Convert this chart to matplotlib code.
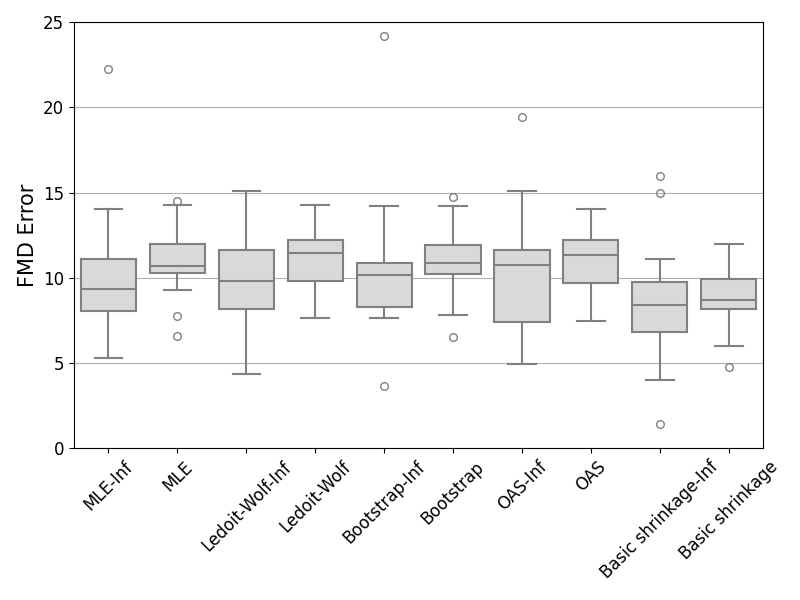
import matplotlib
matplotlib.use("Agg")
import matplotlib.pyplot as plt

methods = ["MLE-Inf", "MLE", "Ledoit-Wolf-Inf", "Ledoit-Wolf", "Bootstrap-Inf",
           "Bootstrap", "OAS-Inf", "OAS", "Basic shrinkage-Inf", "Basic shrinkage"]

# valores
whislo = [5.29, 9.26, 4.36, 7.63, 7.63, 7.82, 4.96, 7.47, 4.03, 5.99]
q1 = [8.03, 10.31, 8.15, 9.79, 8.29, 10.25, 7.39, 9.67, 6.83, 8.17]
med = [9.32, 10.72, 9.84, 11.48, 10.14, 10.84, 10.78, 11.32, 8.40, 8.70]
q3 = [11.13, 12.00, 11.61, 12.20, 10.89, 11.95, 11.65, 12.20, 9.73, 9.92]
whishi = [14.05, 14.28, 15.10, 14.28, 14.22, 14.22, 15.10, 14.05, 11.13, 12.00]
fliers = [[22.26], [14.49, 7.78, 6.56], [], [], [24.18, 3.64],
          [14.73, 6.50], [19.46], [], [15.95, 14.96, 1.42], [4.75]]

stats = []
for i in range(len(methods)):
    stats.append({"label": methods[i], "whislo": whislo[i], "q1": q1[i],
                  "med": med[i], "q3": q3[i], "whishi": whishi[i],
                  "fliers": fliers[i]})

fig, ax = plt.subplots(figsize=(8, 6), dpi=100)
edge = "#808080"
line = dict(color=edge, linewidth=1.5)
ax.bxp(stats, widths=0.8, patch_artist=True,
       boxprops=dict(facecolor="#d9d9d9", edgecolor=edge, linewidth=1.5),
       medianprops=line, whiskerprops=line, capprops=line, capwidths=0.4,
       flierprops=dict(marker="o", markerfacecolor="none", markeredgecolor=edge,
                       markersize=5.5, markeredgewidth=1.0))

ax.set_ylim(0, 25)
ax.set_xlim(0.5, len(methods) + 0.5)
ax.set_ylabel("FMD Error", fontsize=15)
ax.tick_params(axis="both", labelsize=12)
plt.setp(ax.get_xticklabels(), rotation=45)
ax.yaxis.grid(True)
ax.set_axisbelow(True)

fig.subplots_adjust(left=0.0925, right=0.954, top=0.963, bottom=0.253)
plt.savefig("out.png")
